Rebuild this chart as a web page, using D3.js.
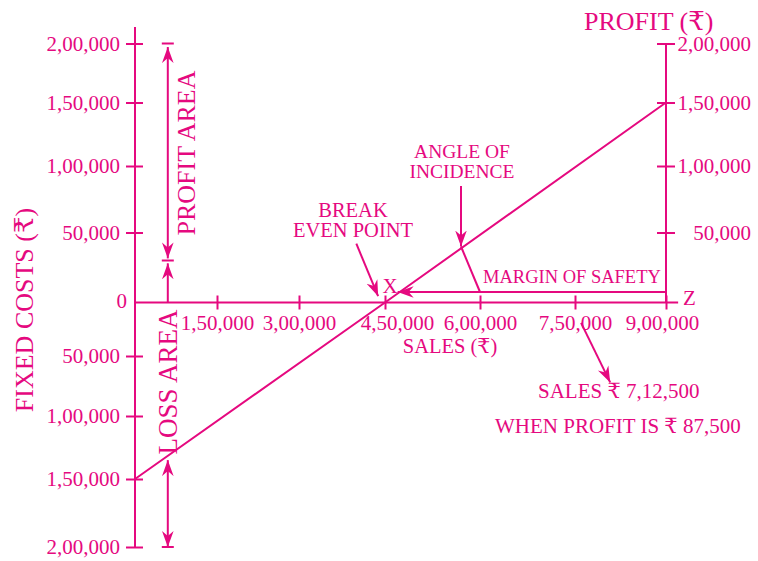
<!DOCTYPE html>
<html>
<head>
<meta charset="utf-8">
<script src="https://cdn.jsdelivr.net/npm/d3@7"></script>
<style>
  html, body { margin: 0; padding: 0; background: #ffffff; }
  svg text { font-family: "Liberation Serif", "DejaVu Serif", "Noto Sans", serif; fill: #e5097f; }
</style>
</head>
<body>
<svg id="chart" width="758" height="561"></svg>
<script>
// ---------- data ----------
const salesTicks = [150000, 300000, 450000, 600000, 750000, 900000];
const salesTickLabels = ["1,50,000", "3,00,000", "4,50,000", "6,00,000", "7,50,000", "9,00,000"];
const leftTicks = [-200000, -150000, -100000, -50000, 0, 50000, 100000, 150000, 200000];
const leftTickLabels = ["2,00,000", "1,50,000", "1,00,000", "50,000", "0", "50,000", "1,00,000", "1,50,000", "2,00,000"];
const rightTicks = [50000, 100000, 150000, 200000];
const rightTickLabels = ["50,000", "1,00,000", "1,50,000", "2,00,000"];
// profit line (sales, profit)
const lineSales = [0, 450000, 900000];
const lineProfit = [-150000, 0, 150000];
// annotation values
const breakEvenSales = 450000;
const marginLevel = 7500;
const marginTipSales = 470000;
const angleSales = 570000;
const angleTopProfit = 85000;
const angleFootSales = 600000;
const areaArrowSales = 60000;
const profitAreaBounds = [30000, 200000];
const lossAreaBounds = [-135000, -200000];
const salesNoteFrom = [760000, -19000];
const salesNoteTo = [808000, -72000];
const breakArrowFrom = [400000, 42000];
const breakArrowTo = [438000, 4500];

const PINK = "#e5097f";
const svg = d3.select("#chart");

// ---------- scales ----------
const x = d3.scaleLinear()
  .domain([0, 150000, 300000, 450000, 600000, 750000, 900000])
  .range([135, 217, 299, 385, 480, 575, 666]);
const y = d3.scaleLinear()
  .domain([-200000, -150000, -100000, -50000, 0, 50000, 100000, 150000, 200000])
  .range([547, 479, 416, 356, 302.5, 232.5, 166, 102.5, 43.5]);

// ---------- markers ----------
const defs = svg.append("defs");
defs.append("marker")
  .attr("id", "arrow")
  .attr("viewBox", "-16 -7 17 14")
  .attr("refX", 0).attr("refY", 0)
  .attr("markerWidth", 17).attr("markerHeight", 14)
  .attr("markerUnits", "userSpaceOnUse")
  .attr("orient", "auto-start-reverse")
  .append("path")
  .attr("d", "M0,0 L-16,-5.8 L-11,0 L-16,5.8 Z")
  .attr("fill", PINK);

const g = svg.append("g");

// ---------- left axis ----------
const leftAxis = d3.axisLeft(y)
  .tickValues(leftTicks)
  .tickSize(9)
  .tickPadding(6)
  .tickFormat((d, i) => leftTickLabels[i]);
const la = g.append("g").attr("transform", `translate(${x(0)},0)`).call(leftAxis);
la.select(".domain").remove();
la.selectAll(".tick line").attr("x1", 8).attr("stroke", PINK).attr("stroke-width", 2);
la.selectAll(".tick text").style("font-size", "21px").attr("fill", PINK);
la.selectAll(".tick").filter(d => d === 0).select("line").remove();
la.selectAll(".tick").filter(d => d === 0).select("text").attr("x", -8).attr("dy", "0.25em");
g.append("line")
  .attr("x1", x(0)).attr("x2", x(0))
  .attr("y1", y(214000)).attr("y2", y(-200000))
  .attr("stroke", PINK).attr("stroke-width", 2);

// ---------- x axis ----------
const bottomAxis = d3.axisBottom(x)
  .tickValues(salesTicks)
  .tickSize(7)
  .tickPadding(6)
  .tickFormat((d, i) => salesTickLabels[i]);
const ba = g.append("g").attr("transform", `translate(0,${y(0)})`).call(bottomAxis);
ba.select(".domain").remove();
ba.selectAll(".tick line").attr("y1", -7).attr("stroke", PINK).attr("stroke-width", 2);
ba.selectAll(".tick text").style("font-size", "21px").attr("fill", PINK)
  .attr("dx", d => d === breakEvenSales ? 12 : (d === 900000 ? -4 : 0));
g.append("line")
  .attr("x1", x(0)).attr("x2", x(920000))
  .attr("y1", y(0)).attr("y2", y(0))
  .attr("stroke", PINK).attr("stroke-width", 2);

// ---------- right axis ----------
const rightAxis = d3.axisRight(y)
  .tickValues(rightTicks)
  .tickSize(9)
  .tickFormat((d, i) => rightTickLabels[i]);
const ra = g.append("g").attr("transform", `translate(${x(900000)},0)`).call(rightAxis);
ra.select(".domain").remove();
ra.selectAll(".tick line").attr("x1", -9).attr("stroke", PINK).attr("stroke-width", 2);
ra.selectAll(".tick text").style("font-size", "21px").attr("fill", PINK)
  .attr("text-anchor", "end").attr("x", 85);
g.append("line")
  .attr("x1", x(900000)).attr("x2", x(900000))
  .attr("y1", y(200000)).attr("y2", y(0))
  .attr("stroke", PINK).attr("stroke-width", 2);

// ---------- profit line ----------
const pts = lineSales.map((s, i) => [s, lineProfit[i]]);
g.append("path")
  .datum(pts)
  .attr("d", d3.line().x(d => x(d[0])).y(d => y(d[1])))
  .attr("fill", "none").attr("stroke", PINK).attr("stroke-width", 2);

// ---------- annotation arrows ----------
function seg(a, b, startMarker, endMarker) {
  const l = g.append("line")
    .attr("x1", x(a[0])).attr("y1", y(a[1]))
    .attr("x2", x(b[0])).attr("y2", y(b[1]))
    .attr("stroke", PINK).attr("stroke-width", 2);
  if (startMarker) l.attr("marker-start", "url(#arrow)");
  if (endMarker) l.attr("marker-end", "url(#arrow)");
  return l;
}
function hTick(sales, profit) {
  g.append("line")
    .attr("x1", x(sales) - 6).attr("x2", x(sales) + 6)
    .attr("y1", y(profit)).attr("y2", y(profit))
    .attr("stroke", PINK).attr("stroke-width", 2);
}
// profit area
hTick(areaArrowSales, profitAreaBounds[1]);
hTick(areaArrowSales, profitAreaBounds[0]);
seg([areaArrowSales, profitAreaBounds[0] + 1500], [areaArrowSales, profitAreaBounds[1] - 3000], true, true);
seg([areaArrowSales, 0], [areaArrowSales, profitAreaBounds[0] - 2000], false, true);
// loss area
hTick(areaArrowSales, lossAreaBounds[1]);
seg([areaArrowSales, lossAreaBounds[0]], [areaArrowSales, lossAreaBounds[1]], true, true);
// break even
seg(breakArrowFrom, breakArrowTo, false, true);
// angle of incidence
const angleProfit = d3.scaleLinear().domain(lineSales).range(lineProfit)(angleSales);
seg([angleSales, angleTopProfit], [angleSales, angleProfit], false, true);
seg([angleSales, angleProfit], [angleFootSales, marginLevel], false, false);
// margin of safety
seg([900000, marginLevel], [marginTipSales, marginLevel], false, true);
// sales note
seg(salesNoteFrom, salesNoteTo, false, true);

// ---------- texts ----------
function txt(str, px, py, size, anchor, rot) {
  const t = g.append("text").text(str)
    .attr("font-size", size + "px")
    .attr("text-anchor", anchor || "start")
    .attr("fill", PINK);
  if (rot) t.attr("transform", `translate(${px},${py}) rotate(${rot})`);
  else t.attr("x", px).attr("y", py);
  return t;
}
txt("FIXED COSTS (₹)", 33, 310, 26, "middle", -90);
txt("PROFIT (₹)", 584, 30, 26, "start");
txt("PROFIT AREA", 195, 153, 26, "middle", -90);
txt("LOSS AREA", 177, 382, 27, "middle", -90);
txt("BREAK", 353, 217, 20.5, "middle");
txt("EVEN POINT", 353, 237, 20.5, "middle");
txt("ANGLE OF", 462, 158, 19.5, "middle");
txt("INCIDENCE", 462, 178, 19.5, "middle");
txt("MARGIN OF SAFETY", 483, 283, 18.5, "start");
txt("X", 390, 293, 21, "middle");
txt("Z", 683, 305, 21, "start");
txt("SALES (₹)", 450, 353, 20.5, "middle");
txt("SALES ₹ 7,12,500", 538, 398, 21, "start");
txt("WHEN PROFIT IS ₹ 87,500", 495, 433, 21, "start");
</script>
</body>
</html>
